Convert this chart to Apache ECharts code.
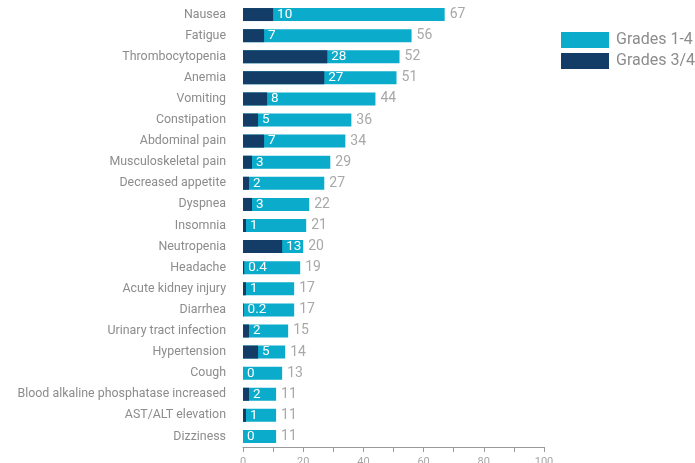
<!DOCTYPE html>
<html>
<head>
<meta charset="utf-8">
<script src="https://cdn.jsdelivr.net/npm/echarts@6/dist/echarts.min.js"></script>
<style>
  html, body { margin: 0; padding: 0; background: #fff; }
  #chart { width: 695px; height: 463px; }
</style>
</head>
<body>
<div id="chart"></div>
<script>
// Adverse events, percent of patients
const categories = [
  'Nausea', 'Fatigue', 'Thrombocytopenia', 'Anemia', 'Vomiting', 'Constipation',
  'Abdominal pain', 'Musculoskeletal pain', 'Decreased appetite', 'Dyspnea',
  'Insomnia', 'Neutropenia', 'Headache', 'Acute kidney injury', 'Diarrhea',
  'Urinary tract infection', 'Hypertension', 'Cough',
  'Blood alkaline phosphatase increased', 'AST/ALT elevation', 'Dizziness'
];
const grades1to4 = [67, 56, 52, 51, 44, 36, 34, 29, 27, 22, 21, 20, 19, 17, 17, 15, 14, 13, 11, 11, 11];
const grades3to4 = [10, 7, 28, 27, 8, 5, 7, 3, 2, 3, 1, 13, 0.4, 1, 0.2, 2, 5, 0, 2, 1, 0];
const xTicks = [0, 20, 40, 60, 80, 100];

const FONT = 'Roboto, "Liberation Sans", sans-serif';
const LIGHT = '#0aabcb';
const DARK = '#133d66';

const chart = echarts.init(document.getElementById('chart'));
chart.setOption({
  animation: false,
  textStyle: { fontFamily: FONT },
  grid: { left: 243, right: 151, top: 4, bottom: 16, containLabel: false, outerBoundsMode: 'none' },
  legend: {
    orient: 'vertical',
    left: 561,
    top: 32,
    padding: 0,
    itemWidth: 48,
    itemHeight: 16,
    itemGap: 5,
    icon: 'rect',
    data: ['Grades 1-4', 'Grades 3/4'],
    textStyle: { color: '#8c8c8c', fontSize: 16, fontFamily: FONT, padding: [0, 0, 0, 2] }
  },
  xAxis: {
    type: 'value',
    min: 0,
    max: 100,
    interval: 10,
    splitLine: { show: false },
    axisLine: { show: true, lineStyle: { color: '#9a9a9a', width: 1 } },
    axisTick: { show: true, length: 5, lineStyle: { color: '#9a9a9a' } },
    axisLabel: {
      color: '#a6a6a6',
      fontSize: 11,
      margin: 10,
      formatter: v => (xTicks.indexOf(v) >= 0 ? String(v) : '')
    }
  },
  yAxis: {
    type: 'category',
    inverse: true,
    data: categories,
    axisLine: { show: false },
    axisTick: { show: false },
    axisLabel: { color: '#8c8c8c', fontSize: 12.4, margin: 17 }
  },
  series: [
    {
      name: 'Grades 1-4',
      type: 'bar',
      data: grades1to4,
      barWidth: 13,
      barGap: '-100%',
      itemStyle: { color: LIGHT },
      label: {
        show: true,
        position: 'right',
        distance: 5,
        color: '#a8a8a8',
        fontSize: 14,
        fontFamily: FONT
      },
      z: 2
    },
    {
      name: 'Grades 3/4',
      type: 'bar',
      data: grades3to4,
      barWidth: 13,
      itemStyle: { color: DARK },
      label: {
        show: true,
        position: 'right',
        distance: 4,
        color: '#ffffff',
        fontSize: 13.5,
        fontFamily: FONT,
        formatter: p => String(p.value)
      },
      z: 3
    }
  ]
});
</script>
</body>
</html>
